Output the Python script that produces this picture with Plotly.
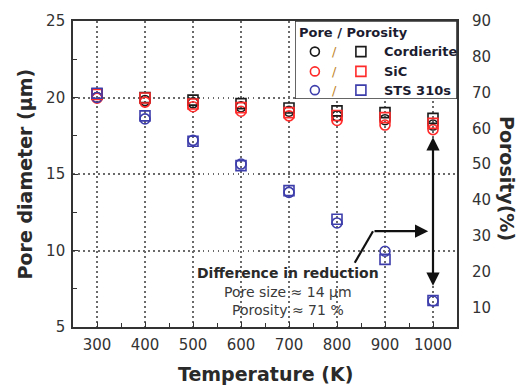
import plotly.graph_objects as go

# ---------------- data ----------------
temperature = [300, 400, 500, 600, 700, 800, 900, 1000]

pore_cordierite = [20.0, 19.8, 19.65, 19.4, 19.1, 18.8, 18.55, 18.2]
pore_sic = [19.95, 19.7, 19.4, 19.1, 18.8, 18.5, 18.2, 17.9]
pore_sts = [20.0, 18.6, 17.2, 15.65, 13.8, 11.8, 9.95, 6.7]

poro_cordierite = [69.6, 68.6, 67.9, 66.9, 65.7, 64.9, 64.4, 62.8]
poro_sic = [69.5, 68.5, 66.8, 65.8, 64.4, 63.6, 63.0, 61.4]
poro_sts = [69.8, 63.5, 56.4, 49.6, 42.6, 34.6, 23.4, 11.9]

materials = ["Cordierite", "SiC", "STS 310s"]
colors = ["#1a1a1a", "#ff2a2a", "#3d3dab"]

x_ticks = [300, 400, 500, 600, 700, 800, 900, 1000]
y_left_ticks = [5, 10, 15, 20, 25]
y_right_ticks = [10, 20, 30, 40, 50, 60, 70, 80, 90]

FONT = "DejaVu Sans"
TXT = "#2a2a2a"

fig = go.Figure()

pores = [pore_cordierite, pore_sic, pore_sts]
poros = [poro_cordierite, poro_sic, poro_sts]

for name, col, pv, rv in zip(materials, colors, pores, poros):
    fig.add_trace(go.Scatter(
        x=temperature, y=pv, mode="markers", name=name + " pore",
        marker=dict(symbol="circle-open", size=10, color=col, line=dict(width=1.6, color=col)),
        showlegend=False, cliponaxis=False))
    fig.add_trace(go.Scatter(
        x=temperature, y=rv, mode="markers", name=name + " porosity", yaxis="y2",
        marker=dict(symbol="square-open", size=10, color=col, line=dict(width=1.6, color=col)),
        showlegend=False, cliponaxis=False))

# ---------------- custom legend (own invisible axes) ----------------
leg_rows_y = [0.608, 0.354, 0.114]
leg_circle_x = 0.123
leg_square_x = 0.407
for yy, col in zip(leg_rows_y, colors):
    fig.add_trace(go.Scatter(
        x=[leg_circle_x], y=[yy], xaxis="x3", yaxis="y3", mode="markers",
        marker=dict(symbol="circle-open", size=9, color=col, line=dict(width=1.6, color=col)),
        showlegend=False, hoverinfo="skip"))
    fig.add_trace(go.Scatter(
        x=[leg_square_x], y=[yy], xaxis="x3", yaxis="y3", mode="markers",
        marker=dict(symbol="square-open", size=10, color=col, line=dict(width=1.6, color=col)),
        showlegend=False, hoverinfo="skip"))

shapes = [
    dict(type="rect", xref="x3", yref="y3", x0=0, x1=1, y0=0, y1=1,
         fillcolor="white", line=dict(color="#333333", width=1.6), layer="below"),
    # bent pointer line
    dict(type="line", xref="x", yref="y", x0=837, y0=9.2, x1=875, y1=11.26,
         line=dict(color="#111111", width=2.2), layer="above"),
]

annotations = [
    dict(xref="x3", yref="y3", x=0.012, y=0.848, text="<b>Pore / Porosity</b>", showarrow=False,
         xanchor="left", yanchor="middle", font=dict(family=FONT, size=13, color="#1c1c30")),
]
for yy, name in zip(leg_rows_y, materials):
    annotations.append(dict(xref="x3", yref="y3", x=0.241, y=yy, text="/", showarrow=False,
                            xanchor="center", yanchor="middle",
                            font=dict(family=FONT, size=13, color="#c0842c")))
    annotations.append(dict(xref="x3", yref="y3", x=0.537, y=yy, text="<b>" + name + "</b>",
                            showarrow=False, xanchor="left", yanchor="middle",
                            font=dict(family=FONT, size=13, color="#1c1c30")))

# axis titles
annotations += [
    dict(xref="paper", yref="paper", x=0.5, y=-0.155, text="<b>Temperature (K)</b>", showarrow=False,
         xanchor="center", yanchor="middle", font=dict(family=FONT, size=19, color=TXT)),
    dict(xref="paper", yref="paper", x=-0.124, y=0.5, text="<b>Pore diameter (µm)</b>", showarrow=False,
         xanchor="center", yanchor="middle", textangle=-90, font=dict(family=FONT, size=19, color=TXT)),
    dict(xref="paper", yref="paper", x=1.13, y=0.484, text="<b>Porosity(%)</b>", showarrow=False,
         xanchor="center", yanchor="middle", textangle=90, font=dict(family=FONT, size=19, color=TXT)),
]

# text block
annotations += [
    dict(xref="x", yref="y", x=698, y=8.55, text="<b>Difference in reduction</b>", showarrow=False,
         xanchor="center", yanchor="middle", font=dict(family=FONT, size=14, color=TXT)),
    dict(xref="x", yref="y", x=698, y=7.32, text="Pore size ≈ 14 µm", showarrow=False,
         xanchor="center", yanchor="middle", font=dict(family=FONT, size=14, color="#3a3a3a")),
    dict(xref="x", yref="y", x=698, y=6.1, text="Porosity ≈ 71 %", showarrow=False,
         xanchor="center", yanchor="middle", font=dict(family=FONT, size=14, color="#3a3a3a")),
]

# arrows
annotations += [
    dict(xref="x", yref="y", axref="x", ayref="y", x=1000, y=17.4, ax=1000, ay=7.6, text="",
         showarrow=True, arrowhead=2, startarrowhead=2, arrowside="end+start", arrowsize=1.2,
         startarrowsize=1.2, arrowwidth=2.2, arrowcolor="#111111", standoff=0, startstandoff=0),
    dict(xref="x", yref="y", axref="x", ayref="y", x=990, y=11.26, ax=875, ay=11.26, text="",
         showarrow=True, arrowhead=2, arrowsize=1.2, arrowwidth=2.2, arrowcolor="#111111", standoff=0),
]

axis_common = dict(showline=True, linecolor="#333333", linewidth=1.6, mirror=True,
                   ticks="inside", ticklen=5, tickwidth=1.3, tickcolor="#333333",
                   tickfont=dict(family=FONT, size=15, color="#333333"),
                   showgrid=True, gridcolor="#6a6a6a", gridwidth=1.5, griddash="1.5px,3.5px",
                   zeroline=False)

fig.update_layout(
    width=524, height=390,
    margin=dict(l=73, r=67, t=17, b=63),
    paper_bgcolor="white", plot_bgcolor="white",
    showlegend=False,
    xaxis=dict(range=[250, 1050], tickvals=x_ticks,
               minor=dict(ticks="inside", dtick=50, tick0=250, ticklen=4, tickcolor="#333333", showgrid=False),
               ticklabelstandoff=3, **axis_common),
    yaxis=dict(range=[5, 25], tickvals=y_left_ticks,
               minor=dict(ticks="inside", dtick=2.5, tick0=5, ticklen=4, tickcolor="#333333", showgrid=False),
               ticklabelstandoff=3, **axis_common),
    yaxis2=dict(overlaying="y", side="right", range=[4.5, 90], tickvals=y_right_ticks,
                showgrid=False, zeroline=False, showline=False, ticks="",
                ticklabelstandoff=14,
                tickfont=dict(family=FONT, size=15, color="#333333")),
    xaxis3=dict(domain=[0.578, 1.0], range=[0, 1], visible=False, anchor="y3", fixedrange=True),
    yaxis3=dict(domain=[0.745, 1.0], range=[0, 1], visible=False, anchor="x3", fixedrange=True),
    shapes=shapes,
    annotations=annotations,
)

fig.write_html("out.html")
